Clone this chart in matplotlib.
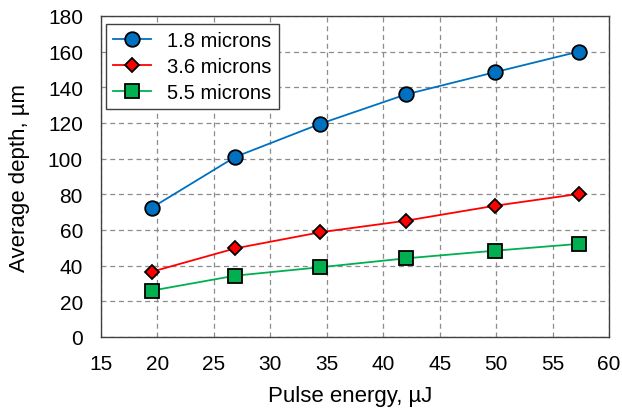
import matplotlib
matplotlib.use("Agg")
import matplotlib.pyplot as plt

plt.rcParams['font.family'] = ['Liberation Sans', 'DejaVu Sans']

energy = [19.5, 26.9, 34.4, 42.0, 49.9, 57.3]
depth_18 = [72.5, 101, 119.5, 136, 148.5, 160]
depth_36 = [36.6, 49.7, 58.7, 65.2, 73.6, 80.2]
depth_55 = [26.0, 34.4, 39.1, 44.1, 48.4, 52.2]
labels = ["1.8 microns", "3.6 microns", "5.5 microns"]
xticks = [15, 20, 25, 30, 35, 40, 45, 50, 55, 60]
yticks = [0, 20, 40, 60, 80, 100, 120, 140, 160, 180]

fig = plt.figure(figsize=(6.22, 4.14), dpi=100)
ax = fig.add_axes([101/622, (414-338)/414, (609-101)/622, (338-17)/414])

ax.plot(energy, depth_18, color='#0070C0', lw=1.3, marker='o', ms=10.5,
        mfc='#0070C0', mec='black', mew=1.3, label=labels[0], zorder=3)
ax.plot(energy, depth_36, color='#FF0000', lw=1.3, marker='D', ms=7,
        mfc='#FF0000', mec='black', mew=1.3, label=labels[1], zorder=3)
ax.plot(energy, depth_55, color='#00B050', lw=1.3, marker='s', ms=10.5,
        mfc='#00B050', mec='black', mew=1.3, label=labels[2], zorder=3)

ax.set_xlim(15, 60)
ax.set_ylim(0, 180)
ax.set_xticks(xticks)
ax.set_yticks(yticks)
ax.tick_params(length=0, labelsize=15)
ax.tick_params(axis='x', pad=12)
ax.tick_params(axis='y', pad=13)
ax.grid(True, color='#8c8c8c', linestyle=(0, (4, 3)), lw=0.9)
for s in ax.spines.values():
    s.set_color('#404040')
    s.set_linewidth(1.0)

ax.set_xlabel("Pulse energy, µJ", fontsize=16, labelpad=8)
ax.set_ylabel("Average depth, µm", fontsize=16, labelpad=13)
ax.xaxis.set_label_coords(0.49, -0.148)

leg = ax.legend(loc='upper left', bbox_to_anchor=(5/508, 1 - 8/321), borderaxespad=0,
                fontsize=14.5, frameon=True, fancybox=False,
                edgecolor='#404040', framealpha=1,
                handlelength=1.9, borderpad=0.35, labelspacing=0.35, handletextpad=0.8)
leg.get_frame().set_linewidth(1.0)

fig.savefig("out.png", dpi=100)
